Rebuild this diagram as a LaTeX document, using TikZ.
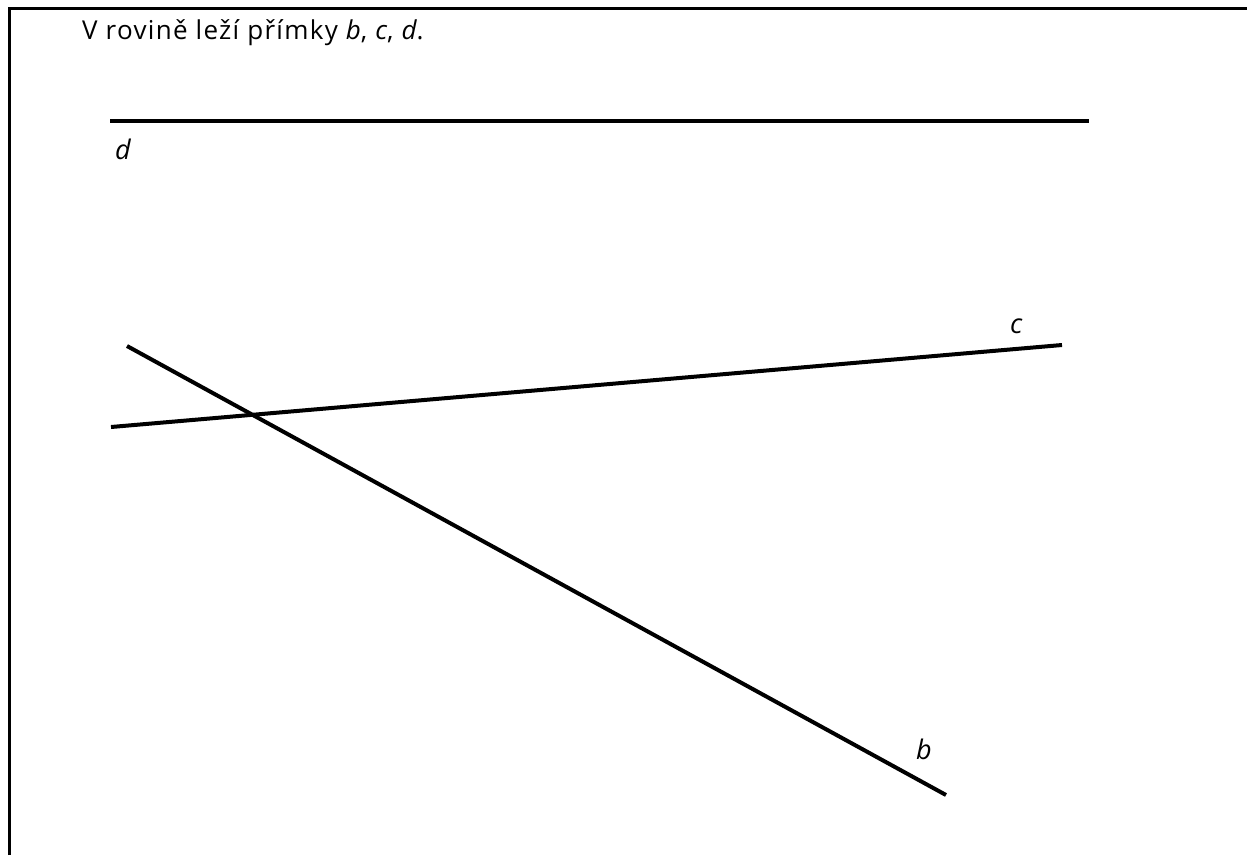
\documentclass[tikz,border=0pt]{standalone}
\usepackage{fontspec}
\setmainfont{Open Sans}
\newfontfamily\titlefont[LetterSpace=5]{Open Sans}
\begin{document}
\begin{tikzpicture}[x=1pt,y=-1pt,
  frame/.style={line width=3pt},
  geoline/.style={line width=4pt},
  lbl/.style={inner sep=0pt,anchor=base west,font=\fontsize{27}{30}\selectfont\itshape}]
\useasboundingbox (0,0) rectangle (1247,855);
\coordinate (fb) at (9.5,855);
\coordinate (fc) at (9.5,8.5);
\coordinate (fr) at (1247,8.5);
\draw[frame] (fb) -- (fc) -- (fr);
\node[inner sep=0pt,anchor=base west,font=\titlefont\fontsize{26}{30}\selectfont] (title) at (82,39) {V rovině leží přímky \textit{b}, \textit{c}, \textit{d}.};
\coordinate (d1) at (110,121);
\coordinate (d2) at (1089,121);
\coordinate (c1) at (111,427);
\coordinate (c2) at (1062,345);
\coordinate (b1) at (127,346);
\coordinate (b2) at (946,795);
\draw[geoline] (d1) -- (d2);
\draw[geoline] (c1) -- (c2);
\draw[geoline] (b1) -- (b2);
\node[lbl] (ld) at (115,159) {d};
\node[lbl] (lc) at (1010,333) {c};
\node[lbl] (lb) at (916,759) {b};
\end{tikzpicture}
\end{document}
